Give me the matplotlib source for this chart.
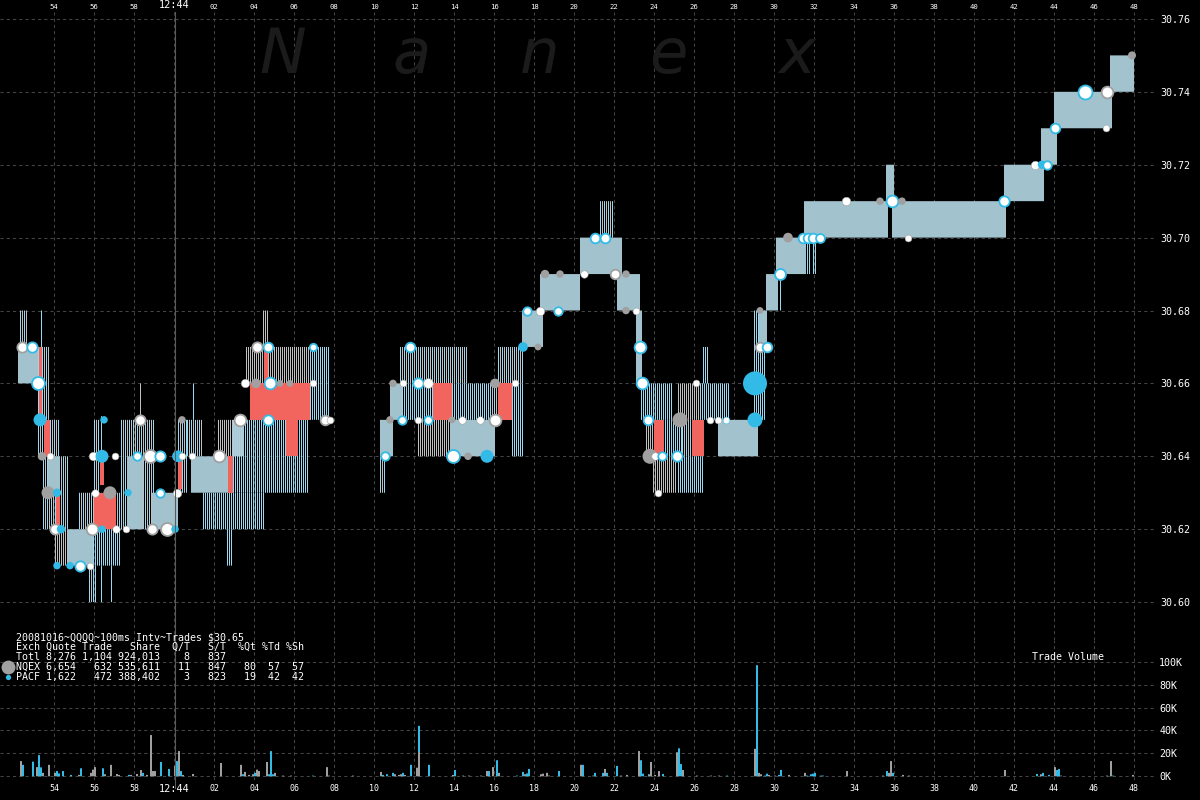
import numpy as np
import matplotlib
matplotlib.use("Agg")
import matplotlib.pyplot as plt
from matplotlib.patches import Rectangle
from matplotlib.lines import Line2D

# ---------------- data (time = seconds after 12:43:00) ----------------
tick_sec = [54, 56, 58, 60, 62, 64, 66, 68, 70, 72, 74, 76, 78, 80, 82, 84,
            86, 88, 90, 92, 94, 96, 98, 100, 102, 104, 106, 108]
tick_labels = ["54", "56", "58", "12:44", "02", "04", "06", "08", "10", "12",
               "14", "16", "18", "20", "22", "24", "26", "28", "30", "32",
               "34", "36", "38", "40", "42", "44", "46", "48"]
price_ticks = [30.60, 30.62, 30.64, 30.66, 30.68, 30.70, 30.72, 30.74, 30.76]
vol_ticks = [0, 20000, 40000, 60000, 80000, 100000]
vol_labels = ["0K", "20K", "40K", "60K", "80K", "100K"]

# quote bands: d = dense (both exchanges), m = mixed stripes, g = NQEX only, b = PACF only
band_t0 = [52.3, 52.2, 53.2, 53.2, 53.45, 53.7, 54.05, 54.7, 55.95, 55.25, 56.0, 57.35, 57.65,
           58.9, 60.2, 60.65, 60.85, 61.45, 62.2, 62.95, 63.6, 63.8, 66.8, 70.3, 70.8, 71.3,
           71.4, 72.2, 73.8, 75.8, 76.2, 76.9, 77.4, 78.3, 80.3, 81.3, 82.15, 83.1, 83.35,
           83.6, 83.95, 85.2, 84.55, 85.2, 86.3, 86.45, 85.4, 87.2, 89.0, 89.25, 89.6, 90.1,
           91.5, 95.6, 95.9, 101.5, 103.35, 104.0, 106.8]
band_t1 = [52.7, 53.2, 53.8, 54.3, 54.8, 54.3, 54.7, 55.95, 57.4, 57.4, 56.3, 59.05, 58.45,
           60.2, 60.7, 61.45, 62.7, 64.55, 63.55, 66.8, 66.8, 66.8, 67.8, 70.95, 71.4, 74.7,
           75.8, 73.8, 76.05, 76.9, 77.55, 77.55, 78.45, 80.3, 82.4, 81.95, 83.3, 83.4, 84.9,
           84.5, 85.2, 86.5, 85.4, 86.3, 87.8, 86.8, 86.5, 89.2, 89.6, 89.65, 90.2, 91.6,
           95.7, 96.0, 101.6, 103.5, 104.15, 106.9, 108.0]
band_lo = [30.67, 30.66, 30.65, 30.64, 30.62, 30.63, 30.61, 30.61, 30.61, 30.62, 30.63, 30.62, 30.62,
           30.62, 30.63, 30.64, 30.63, 30.62, 30.64, 30.63, 30.66, 30.65, 30.65, 30.64, 30.65, 30.66,
           30.65, 30.64, 30.64, 30.65, 30.66, 30.64, 30.67, 30.68, 30.69, 30.70, 30.68, 30.66, 30.65,
           30.64, 30.63, 30.63, 30.64, 30.65, 30.65, 30.66, 30.64, 30.64, 30.65, 30.67, 30.68, 30.69,
           30.70, 30.71, 30.70, 30.71, 30.72, 30.73, 30.74]
band_hi = [30.68, 30.67, 30.67, 30.65, 30.64, 30.64, 30.62, 30.62, 30.62, 30.63, 30.65, 30.65, 30.64,
           30.63, 30.65, 30.65, 30.64, 30.63, 30.65, 30.65, 30.67, 30.66, 30.67, 30.65, 30.66, 30.67,
           30.66, 30.65, 30.65, 30.66, 30.67, 30.66, 30.68, 30.69, 30.70, 30.71, 30.69, 30.68, 30.66,
           30.65, 30.64, 30.64, 30.65, 30.66, 30.66, 30.67, 30.65, 30.65, 30.68, 30.68, 30.69, 30.70,
           30.71, 30.72, 30.71, 30.72, 30.73, 30.74, 30.75]
band_kind = ["m", "d", "m", "m", "m", "d", "g", "d", "b", "m", "m", "m", "d",
             "d", "m", "m", "d", "b", "g", "b", "g", "b", "b", "d", "d", "m",
             "b", "g", "d", "m", "m", "b", "d", "d", "d", "m", "d", "d", "b",
             "g", "g", "b", "b", "g", "b", "b", "m", "d", "b", "d", "d", "d",
             "d", "d", "d", "d", "d", "d", "d"]

# crossed / locked periods (red)
red_t0 = [53.25, 53.5, 54.1, 56.0, 56.3, 60.2, 62.7, 63.8, 65.6, 64.5, 72.95, 76.2, 84.0, 85.9]
red_t1 = [53.4, 53.8, 54.3, 57.1, 56.5, 60.4, 62.95, 66.8, 66.2, 64.7, 73.9, 76.9, 84.5, 86.5]
red_lo = [30.65, 30.64, 30.62, 30.62, 30.632, 30.631, 30.63, 30.65, 30.64, 30.66, 30.65, 30.65, 30.64, 30.64]
red_hi = [30.67, 30.65, 30.63, 30.63, 30.64, 30.64, 30.64, 30.66, 30.65, 30.67, 30.66, 30.66, 30.65, 30.65]

# single quote lines outside the bands
wh_t = [53.35, 55.75, 55.85, 55.95, 56.05, 56.35, 56.85, 56.35, 58.3, 60.95, 62.65, 62.75, 62.85,
        64.45, 64.55, 64.65, 70.3, 70.4, 70.5, 90.3, 91.65, 91.75, 91.95, 92.05]
wh_lo = [30.67, 30.60, 30.60, 30.60, 30.60, 30.60, 30.60, 30.64, 30.65, 30.65, 30.61, 30.61, 30.61,
         30.67, 30.67, 30.67, 30.63, 30.63, 30.63, 30.68, 30.69, 30.69, 30.69, 30.69]
wh_hi = [30.68, 30.61, 30.61, 30.61, 30.61, 30.61, 30.61, 30.651, 30.66, 30.66, 30.62, 30.62, 30.62,
         30.68, 30.68, 30.68, 30.64, 30.64, 30.64, 30.69, 30.70, 30.70, 30.70, 30.70]
wh_exch = ["P", "P", "N", "P", "P", "P", "P", "P", "N", "P", "P", "P", "P",
           "N", "N", "N", "P", "N", "P", "P", "P", "P", "P", "P"]

# trades: time, price, exchange, kind (s = solid, r = ring, w = white), shares
tr_t = [52.4, 52.9, 53.2, 53.3, 53.4, 53.8, 53.7, 54.15, 54.05, 54.35, 54.15, 54.8, 55.3, 55.8,
        55.95, 56.4, 56.5, 57.05, 56.05, 56.8, 57.7, 55.9, 56.4, 57.1, 57.6, 58.3, 58.15, 58.8,
        59.3, 58.9, 59.65, 60.05, 59.3, 60.15, 60.2, 60.4, 60.9, 60.4, 62.25, 63.3, 64.7, 63.55,
        64.1, 64.8, 65.3, 65.8, 66.95, 64.15, 64.7, 66.95, 67.55, 67.8, 71.8, 70.95, 71.45, 72.2,
        72.7, 70.8, 71.4, 72.2, 72.7, 73.9, 74.4, 75.3, 76.05, 70.55, 73.95, 74.7, 75.65, 76.05,
        77.05, 77.45, 78.2, 77.65, 78.3, 79.2, 78.55, 79.3, 80.5, 81.05, 81.55, 82.05, 82.6, 82.6,
        83.1, 83.3, 83.4, 83.7, 83.8, 84.05, 84.4, 85.15, 84.2, 85.3, 86.1, 86.8, 87.2, 87.6,
        89.05, 89.05, 89.3, 89.65, 89.3, 90.3, 90.7, 91.45, 91.7, 91.95, 92.3, 93.6, 95.3, 95.9,
        96.4, 96.7, 101.5, 103.05, 103.4, 103.65, 104.05, 105.55, 106.65, 106.6, 107.9]
tr_p = [30.67, 30.67, 30.66, 30.65, 30.64, 30.64, 30.63, 30.63, 30.62, 30.62, 30.61, 30.61, 30.61, 30.61,
        30.64, 30.64, 30.65, 30.64, 30.63, 30.63, 30.63, 30.62, 30.62, 30.62, 30.62, 30.65, 30.64, 30.64,
        30.64, 30.62, 30.62, 30.62, 30.63, 30.63, 30.64, 30.64, 30.64, 30.65, 30.64, 30.65, 30.65, 30.66,
        30.66, 30.66, 30.66, 30.66, 30.66, 30.67, 30.67, 30.67, 30.65, 30.65, 30.67, 30.66, 30.66, 30.66,
        30.66, 30.65, 30.65, 30.65, 30.65, 30.65, 30.65, 30.65, 30.65, 30.64, 30.64, 30.64, 30.64, 30.66,
        30.66, 30.67, 30.67, 30.68, 30.68, 30.68, 30.69, 30.69, 30.69, 30.70, 30.70, 30.69, 30.69, 30.68,
        30.68, 30.67, 30.66, 30.65, 30.64, 30.64, 30.64, 30.64, 30.63, 30.65, 30.66, 30.65, 30.65, 30.65,
        30.66, 30.65, 30.67, 30.67, 30.68, 30.69, 30.70, 30.70, 30.70, 30.70, 30.70, 30.71, 30.71, 30.71,
        30.71, 30.70, 30.71, 30.72, 30.72, 30.72, 30.73, 30.74, 30.74, 30.73, 30.75]
tr_exch = ["N", "P", "P", "P", "N", "N", "N", "P", "N", "P", "P", "P", "P", "N",
           "N", "P", "P", "N", "N", "N", "P", "N", "P", "N", "N", "N", "P", "N",
           "P", "N", "N", "P", "P", "N", "P", "N", "N", "N", "N", "N", "P", "N",
           "N", "P", "N", "N", "N", "N", "P", "P", "N", "N", "P", "N", "N", "P",
           "N", "N", "P", "N", "P", "N", "N", "N", "N", "P", "P", "N", "P", "N",
           "N", "P", "N", "P", "N", "P", "N", "N", "N", "P", "P", "N", "N", "N",
           "N", "P", "P", "P", "N", "N", "P", "P", "N", "N", "N", "N", "N", "P",
           "P", "P", "N", "P", "N", "P", "N", "P", "P", "P", "P", "N", "N", "P",
           "N", "N", "P", "N", "P", "P", "P", "P", "N", "N", "N"]
tr_kind = ["r", "r", "r", "s", "s", "w", "s", "s", "r", "s", "s", "s", "r", "w",
           "w", "s", "s", "w", "w", "s", "s", "r", "s", "w", "w", "r", "r", "r",
           "r", "r", "r", "s", "r", "w", "s", "w", "w", "s", "r", "r", "r", "w",
           "s", "r", "s", "s", "w", "r", "r", "r", "r", "w", "r", "s", "w", "r",
           "w", "s", "r", "w", "r", "s", "w", "w", "r", "r", "r", "s", "s", "s",
           "w", "s", "s", "r", "w", "r", "s", "s", "w", "r", "r", "r", "s", "s",
           "w", "r", "r", "r", "s", "w", "r", "r", "w", "s", "w", "w", "w", "w",
           "s", "s", "r", "r", "s", "r", "s", "r", "r", "r", "r", "w", "s", "r",
           "s", "w", "r", "w", "s", "r", "r", "r", "r", "w", "s"]
tr_shares = [1000, 1000, 2000, 2000, 500, 200, 2000, 500, 1000, 500, 300, 300, 1000, 200,
             500, 2000, 300, 200, 300, 2000, 300, 1500, 300, 300, 200, 1000, 500, 2000,
             1000, 1000, 2000, 300, 500, 500, 1500, 200, 200, 300, 1500, 1500, 1000, 500,
             800, 1500, 200, 200, 200, 1000, 800, 300, 800, 200, 800, 300, 200, 1000,
             800, 300, 500, 200, 500, 200, 300, 300, 1500, 500, 2000, 300, 2000, 800,
             200, 800, 200, 500, 500, 500, 500, 300, 300, 800, 800, 800, 300, 300,
             200, 1500, 1500, 800, 3000, 300, 500, 1000, 200, 3000, 200, 200, 200, 200,
             10000, 3000, 800, 800, 200, 1200, 800, 800, 800, 800, 600, 500, 300, 1500,
             300, 200, 1000, 500, 500, 500, 800, 2500, 1500, 200, 400]

# trade volume per 100 ms interval (thousands of shares)
vn_t = [52.3, 53.1, 53.4, 53.7, 54.0, 55.2, 55.8, 55.9, 56.0, 56.5, 56.8, 57.1, 57.2, 57.8, 58.1,
        58.3, 58.6, 58.8, 58.9, 59.0, 60.0, 60.2, 60.4, 60.9, 62.3, 63.3, 63.5, 63.7, 63.9, 64.1,
        64.2, 64.6, 65.0, 65.4, 65.8, 67.6, 67.7, 68.9, 70.3, 71.0, 71.2, 71.3, 71.5, 72.1, 72.2,
        73.9, 74.4, 74.7, 75.3, 75.6, 75.9, 76.2, 77.5, 78.3, 78.4, 78.6, 78.7, 80.3, 80.9, 81.5,
        82.3, 82.6, 83.2, 83.7, 83.8, 84.0, 84.2, 85.1, 85.4, 86.1, 86.8, 87.2, 89.0, 89.2, 89.3,
        89.7, 90.0, 90.7, 91.5, 93.6, 95.4, 95.7, 95.8, 96.4, 96.7, 101.5, 103.3, 104.0, 104.3,
        106.6, 106.8, 107.9]
vn_k = [13.3, 8, 3, 10, 3, 1.2, 3, 5.8, 8, 1.8, 10, 2, 1.2, 1.2, 2,
        5.5, 1.2, 36, 4.6, 4.6, 9, 22, 1.2, 2, 11.6, 10, 3.8, 1.2, 1.8, 5.8,
        4.6, 12.5, 3, 0.6, 0.6, 8, 0.6, 0.6, 3.8, 1.8, 1.2, 1.8, 1.2, 7.5, 21,
        1.2, 0.6, 0.6, 0.6, 4.6, 8, 3, 1.8, 1.8, 2.3, 3, 0.6, 10, 0.6, 6.4,
        0.6, 1.2, 22, 1.2, 12.5, 1.2, 4.6, 21, 5.5, 0.6, 0.6, 0.6, 24, 3, 1.8,
        1.2, 0.6, 1.2, 3, 4.6, 0.6, 3, 13.3, 1.2, 0.6, 5.5, 1.8, 8, 0.6,
        0.6, 13.3, 1.2]
vp_t = [52.4, 52.9, 53.2, 53.3, 54.1, 54.2, 54.4, 54.8, 55.3, 56.4, 57.7, 58.4, 59.3, 59.7, 60.1,
        60.3, 63.4, 64.0, 64.7, 64.8, 64.9, 66.9, 70.4, 70.6, 70.9, 71.4, 71.8, 72.2, 72.7, 74.0,
        75.7, 76.1, 77.1, 77.4, 77.6, 77.7, 79.2, 80.4, 81.0, 81.4, 81.6, 82.1, 83.3, 83.4, 83.7,
        84.4, 85.2, 85.3, 87.6, 89.1, 89.5, 89.6, 90.2, 90.3, 91.6, 91.8, 91.9, 92.0, 92.3, 92.4,
        95.6, 95.9, 103.1, 103.4, 103.7, 104.1, 104.2, 106.9]
vp_k = [10, 12.8, 18.5, 7.8, 4.6, 2.5, 4.6, 1.2, 7, 7, 1.2, 3, 12.5, 6.4, 13.3,
        4.6, 1.8, 3, 1.8, 22, 1.8, 0.6, 1.2, 1.8, 3, 3, 10, 44, 10, 5.5,
        4.6, 14, 0.6, 3.8, 2.5, 6.4, 4.6, 10, 3, 3, 3, 9, 14, 2.3, 1.8,
        2, 24.4, 10.7, 0.6, 97, 0.6, 2.3, 1.2, 5.5, 0.6, 1.8, 2.3, 3, 0.6, 0.6,
        4.6, 3, 2, 3, 1.2, 5.5, 6.4, 0.6]

legend_lines = ["20081016~QQQQ~100ms Intv~Trades $30.65",
                "Exch Quote Trade   Share  Q/T   S/T  %Qt %Td %Sh",
                "Totl 8,276 1,104 924,013    8   837",
                "NQEX 6,654   632 535,611   11   847   80  57  57",
                "PACF 1,622   472 388,402    3   823   19  42  42"]

# ---------------- styles ----------------
BG = "black"
GRID = "#454545"
C_N = "#a0a0a0"
C_P = "#33bbe8"
C_STRIPE = {"N": "#c0c0c0", "P": "#9ad8f2"}
C_DENSE = "#a2c2ce"
C_RED = "#f2645e"
MONO = "DejaVu Sans Mono"

W, H = 1200, 800
fig = plt.figure(figsize=(12, 8), dpi=100, facecolor=BG)


def fy(py):
    return 1 - py / H


AX_W = 1155
T_LEFT = 51.3
T_RIGHT = T_LEFT + AX_W / 20.0
STEP = 0.1      # one 100 ms interval
LINE_W = 0.05   # one pixel wide quote line

axp = fig.add_axes([0, fy(640), AX_W / W, (640 - 12) / H])
axv = fig.add_axes([0, fy(780), AX_W / W, (780 - 640) / H])

for ax in (axp, axv):
    ax.set_facecolor("none")
    ax.set_xlim(T_LEFT, T_RIGHT)
    for s in ax.spines.values():
        s.set_visible(False)
    ax.set_xticks(tick_sec)
    ax.grid(True, color=GRID, linestyle=(0, (3, 3)), linewidth=0.75)
    ax.set_axisbelow(True)
    ax.tick_params(length=0, colors="white")

axp.set_ylim(30.5896, 30.7619)
axv.set_ylim(-3230, 118935)

axp.set_yticks(price_ticks)
axp.set_yticklabels([f"{p:.2f}" for p in price_ticks], family=MONO, fontsize=7.2, color="white")
axp.yaxis.tick_right()
axp.tick_params(axis="y", pad=4)
axp.xaxis.tick_top()
axp.set_xticklabels(tick_labels, family=MONO, fontsize=5.2, color="white")
axp.tick_params(axis="x", pad=1.5)

axv.set_yticks(vol_ticks)
axv.set_yticklabels(vol_labels, family=MONO, fontsize=7.2, color="white")
axv.yaxis.tick_right()
axv.tick_params(axis="y", pad=3)
axv.set_xticklabels(tick_labels, family=MONO, fontsize=6.0, color="white")
axv.tick_params(axis="x", pad=3)

for lab in list(axp.get_xticklabels()) + list(axv.get_xticklabels()):
    if lab.get_text() == "12:44":
        lab.set_fontsize(7.4)

# watermark
for i, ch in enumerate("Nanex"):
    fig.text((283 + 128.5 * i) / W, fy(73), ch, ha="center", va="baseline",
             fontsize=45, style="italic", color="#1b1b1b", family="DejaVu Sans", zorder=0)

# 12:44 marker line
fig.add_artist(Line2D([174.5 / W, 174.5 / W], [fy(12), fy(788)], color="#5a5a5a", lw=0.8))


def quote_lines(starts, lo, hi, color, z, width=LINE_W):
    if len(starts) == 0:
        return
    coll = axp.broken_barh([(s, width) for s in starts], (lo, hi - lo),
                           facecolors=color, edgecolor="none", linewidth=0,
                           antialiased=True, zorder=z)
    coll.set_snap(False)


# ---------------- quote bands ----------------
for t0, t1, lo, hi, kind in zip(band_t0, band_t1, band_lo, band_hi, band_kind):
    n = int(round((t1 - t0) / STEP))
    starts = t0 + STEP * np.arange(n)
    if kind == "d":
        quote_lines([t0], lo, hi, C_DENSE, 2, width=t1 - t0)
    elif kind == "g":
        quote_lines(starts, lo, hi, C_STRIPE["N"], 2)
    elif kind == "b":
        quote_lines(starts, lo, hi, C_STRIPE["P"], 2)
    else:
        quote_lines(starts[0::2], lo, hi, C_STRIPE["P"], 2)
        quote_lines(starts[1::2], lo, hi, C_STRIPE["N"], 2)

for t0, t1, lo, hi in zip(red_t0, red_t1, red_lo, red_hi):
    axp.add_patch(Rectangle((t0, lo), t1 - t0, hi - lo, facecolor=C_RED,
                            edgecolor="none", lw=0, zorder=3))

for t, lo, hi, e in zip(wh_t, wh_lo, wh_hi, wh_exch):
    quote_lines([t], lo, hi, C_STRIPE[e], 2)

# ---------------- trades ----------------
sizes = [((4 + 2 * np.sqrt(s / 100.0)) * 0.72) ** 2 for s in tr_shares]
for t, p, e, k, s in zip(tr_t, tr_p, tr_exch, tr_kind, sizes):
    col = C_N if e == "N" else C_P
    if k == "s":
        axp.scatter([t], [p], s=s, facecolor=col, edgecolor="none", zorder=5)
    elif k == "r":
        axp.scatter([t], [p], s=s, facecolor="white", edgecolor=col, linewidth=1.3, zorder=5)
    else:
        axp.scatter([t], [p], s=s, facecolor="white", edgecolor=col, linewidth=0.4, zorder=5)

# ---------------- volume ----------------
bp = axv.bar(vp_t, [v * 1000 for v in vp_k], width=STEP, align="edge", color=C_P,
             linewidth=0, zorder=3)
bn = axv.bar(vn_t, [v * 1000 for v in vn_k], width=STEP, align="edge", color=C_N,
             linewidth=0, zorder=3)
for r in list(bp) + list(bn):
    r.set_snap(False)

# ---------------- legend text ----------------
for i, line in enumerate(legend_lines):
    fig.text(16 / W, fy(637 + 10 * i), line, family=MONO, fontsize=7.2,
             color="white", va="center", ha="left")
fig.add_artist(Line2D([8 / W], [fy(667)], marker="o", ms=10, color=C_N, mec="none", lw=0))
fig.add_artist(Line2D([8 / W], [fy(677)], marker="o", ms=3.8, color=C_P, mec="none", lw=0))
fig.text(1032 / W, fy(657), "Trade Volume", family=MONO, fontsize=7.2,
         color="white", va="center", ha="left")

fig.savefig("out.png", dpi=100, facecolor=BG)
